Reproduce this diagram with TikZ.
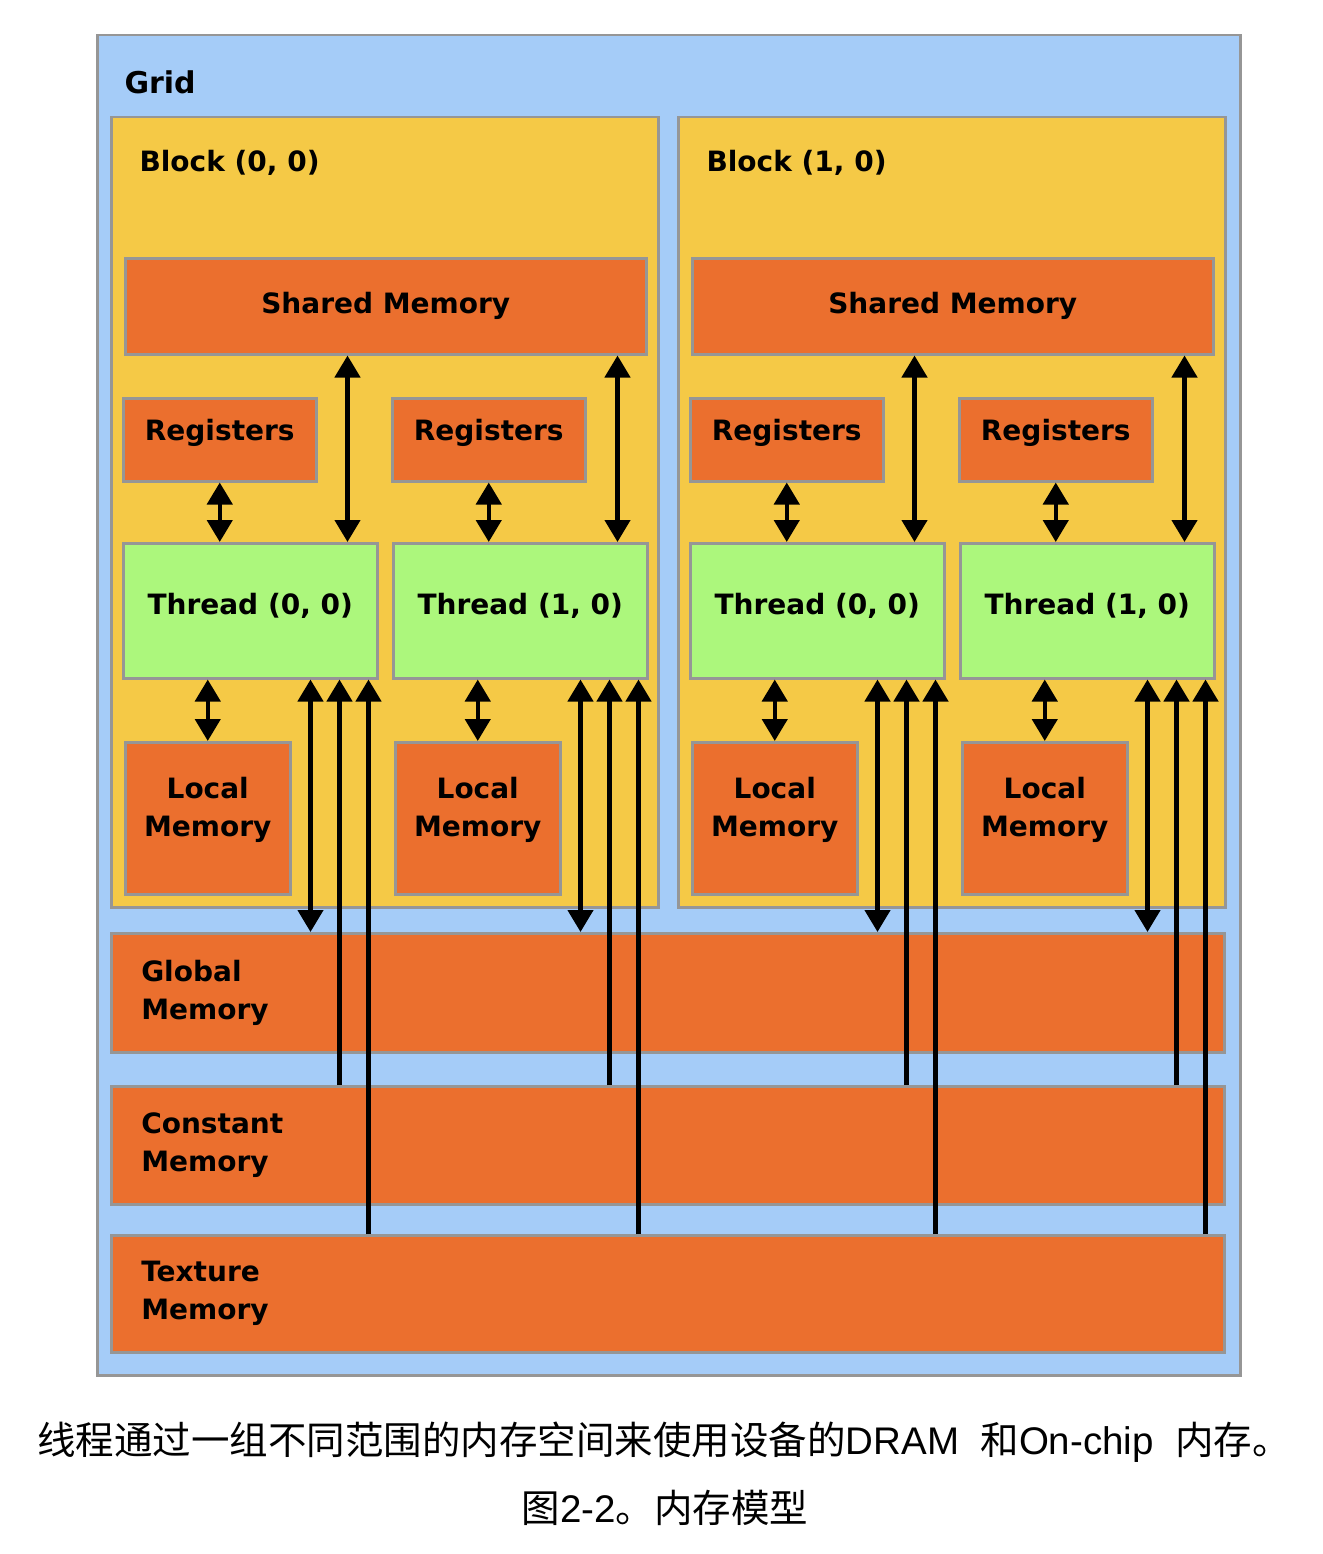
\documentclass[tikz,border=0pt]{standalone}
\usepackage{fontspec}
\setmainfont{Liberation Sans}
\newfontfamily\diagfont{DejaVu Sans}
\newfontfamily\cjk{Noto Sans CJK SC}
\usetikzlibrary{arrows.meta}
\definecolor{gridblue}{RGB}{165,204,248}
\definecolor{blockyellow}{RGB}{245,201,70}
\definecolor{memorange}{RGB}{235,111,46}
\definecolor{threadgreen}{RGB}{172,247,124}
\definecolor{edgegray}{RGB}{150,150,150}

\begin{document}
\begin{tikzpicture}[x=1pt,y=-1pt,>={Triangle[width=25pt,length=22pt]},
  lbl/.style={font=\diagfont\bfseries\fontsize{28}{38}\selectfont},
  box/.style={draw=edgegray,line width=2.5pt,anchor=north west,inner sep=0pt},
  mem/.style={box,lbl,fill=memorange,align=center},
  bigmem/.style={mem,inner xsep=30pt,text width=1053pt,align=left,minimum height=#1},
  link/.style={line width=4.5pt}]
\useasboundingbox (0,0) rectangle (1322,1554);
\node[box,fill=gridblue,minimum width=1143pt,minimum height=1340pt] (grid) at (96,34) {};
\node[lbl,font=\diagfont\bfseries\fontsize{30}{38}\selectfont,anchor=west] (gridname) at (121,82) {Grid};
\foreach \b in {0,1} {
  \node[box,fill=blockyellow,minimum width=547pt,minimum height=790pt] (blk\b) at (110+567*\b,116) {};
  \node[lbl,anchor=west] (blkname\b) at (136+567*\b,163) {Block (\b, 0)};
  \node[mem,minimum width=521pt,minimum height=96pt] (sm\b) at (124+567*\b,257) {Shared Memory};
  \foreach \t in {0,1} {
    \node[mem,text depth=20pt,minimum width=193pt,minimum height=83pt] (reg\b\t) at (122+567*\b+269*\t,397) {Registers};
    \node[box,lbl,text depth=13pt,fill=threadgreen,minimum width=254pt,minimum height=135pt] (thr\b\t) at (122+567*\b+270*\t,542) {Thread (\t, 0)};
    \node[mem,text depth=23pt,minimum width=165pt,minimum height=152pt] (loc\b\t) at (124+567*\b+270*\t,741) {Local\\Memory};
  }
}
\node[bigmem=119pt] (glob) at (110,932) {Global\\Memory};
\node[bigmem=118pt] (const) at (110,1085) {Constant\\Memory};
\node[bigmem=117pt] (tex) at (110,1234) {Texture\\Memory};
\foreach \b in {0,1} \foreach \t in {0,1} {
  \draw[link,<->] (reg\b\t.south) -- (reg\b\t.south |- thr\b\t.north);
  \draw[link,<->] ([xshift=-31pt]thr\b\t.north east) -- ([xshift=-31pt]thr\b\t.north east |- sm\b.south);
  \draw[link,<->] (thr\b\t.south -| loc\b\t.north) -- (loc\b\t.north);
  \draw[link,<->] ([xshift=-68pt]thr\b\t.south east) -- ([xshift=-68pt]thr\b\t.south east |- glob.north);
  \draw[link,->] ([xshift=-39pt]thr\b\t.south east |- const.north) -- ([xshift=-39pt]thr\b\t.south east);
  \draw[link,->] ([xshift=-10pt]thr\b\t.south east |- tex.north) -- ([xshift=-10pt]thr\b\t.south east);
}
\node[font=\fontsize{38.5}{46}\selectfont] (caption) at (664,1442) {{\cjk 线程通过一组不同范围的内存空间来使用设备的}DRAM\ \ {\cjk 和}On-chip\ \ {\cjk 内存。}};
\node[font=\fontsize{38.5}{46}\selectfont] (figname) at (665,1508) {{\cjk 图}2-2{\cjk 。内存模型}};
\end{tikzpicture}
\end{document}
